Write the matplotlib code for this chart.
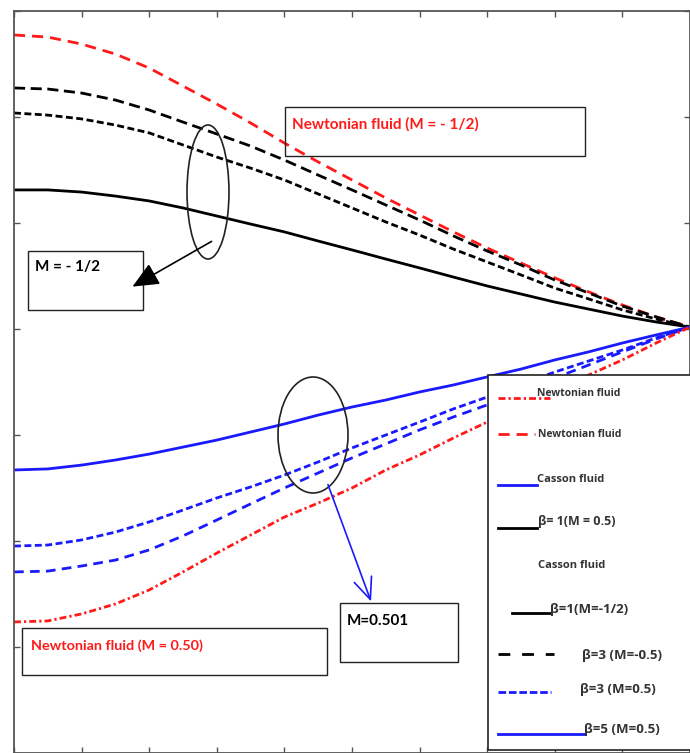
import matplotlib
matplotlib.use("Agg")
import matplotlib.pyplot as plt
from matplotlib.lines import Line2D
from matplotlib.patches import Rectangle, Ellipse, FancyArrowPatch
import numpy as np

plt.rcParams['lines.scale_dashes'] = False

# ---- data ----
x = [0.0, 0.05, 0.1, 0.15, 0.2, 0.25, 0.3, 0.35, 0.4, 0.45, 0.5,
     0.55, 0.6, 0.65, 0.7, 0.75, 0.8, 0.85, 0.9, 0.95, 1.0]
newton_neg = [1.387, 1.377, 1.344, 1.297, 1.231, 1.146, 1.061, 0.972, 0.877, 0.788, 0.703,
              0.618, 0.538, 0.458, 0.382, 0.311, 0.241, 0.175, 0.113, 0.057, 0.009]
beta3_neg = [1.137, 1.132, 1.113, 1.080, 1.033, 0.976, 0.920, 0.863, 0.797, 0.726, 0.656,
             0.585, 0.514, 0.439, 0.368, 0.302, 0.231, 0.170, 0.108, 0.057, 0.009]
casson_neg = [1.019, 1.009, 0.991, 0.962, 0.925, 0.868, 0.811, 0.759, 0.703, 0.637, 0.571,
              0.505, 0.443, 0.377, 0.316, 0.255, 0.193, 0.142, 0.090, 0.047, 0.009]
beta1_neg = [0.656, 0.656, 0.646, 0.627, 0.604, 0.571, 0.533, 0.495, 0.458, 0.415, 0.373,
             0.330, 0.288, 0.245, 0.203, 0.165, 0.127, 0.094, 0.061, 0.033, 0.009]
beta5_pos = [-0.665, -0.660, -0.642, -0.618, -0.590, -0.557, -0.524, -0.486, -0.448, -0.406, -0.368,
             -0.335, -0.297, -0.264, -0.226, -0.189, -0.146, -0.108, -0.066, -0.028, 0.009]
beta3_pos_a = [-1.024, -1.019, -0.995, -0.958, -0.910, -0.854, -0.797, -0.745, -0.689, -0.627, -0.561,
               -0.500, -0.439, -0.377, -0.321, -0.259, -0.203, -0.151, -0.099, -0.042, 0.009]
beta3_pos_b = [-1.146, -1.142, -1.118, -1.090, -1.042, -0.976, -0.901, -0.825, -0.750, -0.679, -0.608,
               -0.542, -0.476, -0.415, -0.358, -0.292, -0.231, -0.170, -0.108, -0.047, 0.009]
newton_pos = [-1.382, -1.377, -1.344, -1.297, -1.231, -1.146, -1.057, -0.972, -0.887, -0.821, -0.750,
              -0.665, -0.594, -0.514, -0.439, -0.363, -0.288, -0.217, -0.146, -0.066, 0.009]

xticks = [0.0, 0.1, 0.2, 0.3, 0.4, 0.5, 0.6, 0.7, 0.8, 0.9, 1.0]
yticks = [-2.0, -1.5, -1.0, -0.5, 0.0, 0.5, 1.0, 1.5]

W, H = 690, 753
fig = plt.figure(figsize=(W / 100, H / 100), dpi=100)

def fx(px):
    return px / W

def fy(py):
    return 1 - py / H

ax = fig.add_axes([fx(14), fy(753), (690 - 14) / W, (753 - 11) / H])
ax.set_xlim(0, 1)
ax.set_ylim(-2.0, 1.5)
ax.set_xticks(xticks)
ax.set_yticks(yticks)
ax.tick_params(direction='in', length=4, width=1, colors='#555555',
               labelbottom=False, labelleft=False, top=True, right=True)
for s in ax.spines.values():
    s.set_color('#555555')
    s.set_linewidth(1.3)

red = '#ff1a1a'
blue = '#1a1aff'
lw = 2.0
ax.plot(x, newton_neg, color=red, lw=lw, dashes=(8, 5))
ax.plot(x, beta3_neg, color='black', lw=lw, dashes=(8, 4))
ax.plot(x, casson_neg, color='black', lw=lw, dashes=(5, 2.5))
ax.plot(x, beta1_neg, color='black', lw=lw)
ax.plot(x, beta5_pos, color=blue, lw=lw)
ax.plot(x, beta3_pos_a, color=blue, lw=lw, dashes=(5, 2.5))
ax.plot(x, beta3_pos_b, color=blue, lw=lw, dashes=(7, 4.5))
ax.plot(x, newton_pos, color=red, lw=lw, dashes=(5, 2.2, 1.6, 2.2))

# ---- annotations in pixel coordinates ----
def box(x0, y0, x1, y1):
    fig.patches.append(Rectangle((fx(x0), fy(y1)), (x1 - x0) / W, (y1 - y0) / H,
                                 transform=fig.transFigure, fill=False,
                                 ec='#222222', lw=1.0, zorder=5))

def ptext(px, py, s, color='black', size=11, weight='bold', family='Lato'):
    fig.text(fx(px), fy(py), s, color=color, fontsize=size, fontweight=weight,
             family=family, ha='left', va='center', zorder=6)

box(285, 107, 585, 156)
ptext(292, 124, 'Newtonian fluid (M = - 1/2)', color=red, size=11)
box(28, 251, 143, 310)
ptext(35, 267, 'M = - 1/2', size=11)
box(22, 628, 327, 675)
ptext(31, 646, 'Newtonian fluid (M = 0.50)', color=red, size=10.4)
box(340, 603, 458, 662)
ptext(347, 621, 'M=0.501', size=11)

fig.patches.append(Ellipse((fx(208), fy(192)), 42 / W, 134 / H, transform=fig.transFigure,
                           fill=False, ec='#222222', lw=1.2, zorder=5))
fig.patches.append(Ellipse((fx(313), fy(435)), 70 / W, 116 / H, transform=fig.transFigure,
                           fill=False, ec='#222222', lw=1.2, zorder=5))
fig.patches.append(FancyArrowPatch((fx(214), fy(240)), (fx(130), fy(288)),
                                   transform=fig.transFigure,
                                   arrowstyle='-|>,head_length=0.9,head_width=0.4',
                                   mutation_scale=18, color='black', lw=1.2, zorder=5))
fig.patches.append(FancyArrowPatch((fx(327), fy(482)), (fx(372), fy(604)),
                                   transform=fig.transFigure,
                                   arrowstyle='->,head_length=0.7,head_width=0.3',
                                   mutation_scale=22, color=blue, lw=1.2, zorder=5))

# ---- legend box ----
fig.patches.append(Rectangle((fx(488), fy(750)), (692 - 488) / W, (750 - 375) / H,
                             transform=fig.transFigure, fc='white', ec='#222222',
                             lw=1.2, zorder=7))

def lline(x0, x1, py, color, dashes=None):
    l = Line2D([fx(x0), fx(x1)], [fy(py), fy(py)], transform=fig.transFigure,
               color=color, lw=2, zorder=8)
    if dashes:
        l.set_dashes(dashes)
    fig.lines.append(l)

def ltext(px, py, s, size=8.5):
    fig.text(fx(px), fy(py), s, color='#333333', fontsize=size, fontweight='bold',
             family=['Open Sans', 'DejaVu Sans'], ha='left', va='center', zorder=9)

lline(498, 550, 398, red, (5, 2.2, 1.6, 2.2))
ltext(537, 393, 'Newtonian fluid', 7.5)
lline(498, 535, 434, red, (8, 5))
ltext(538, 434, 'Newtonian fluid', 7.5)
lline(498, 537, 485, blue)
ltext(537, 479, 'Casson fluid', 8)
lline(498, 537, 528, 'black')
ltext(538, 522, 'β= 1(M = 0.5)', 9)
ltext(538, 566, 'Casson fluid', 8)
lline(512, 550, 613, 'black')
ltext(550, 610, 'β=1(M=-1/2)', 9.5)
lline(498, 554, 654, 'black', (8.5, 8.5))
ltext(582, 655, 'β=3 (M=-0.5)', 9.5)
lline(498, 551, 692, blue, (5.5, 2))
ltext(580, 690, 'β=3 (M=0.5)', 9.5)
lline(498, 584, 734, blue)
ltext(584, 729, 'β=5 (M=0.5)', 9.5)

fig.savefig('out.png', dpi=100)
